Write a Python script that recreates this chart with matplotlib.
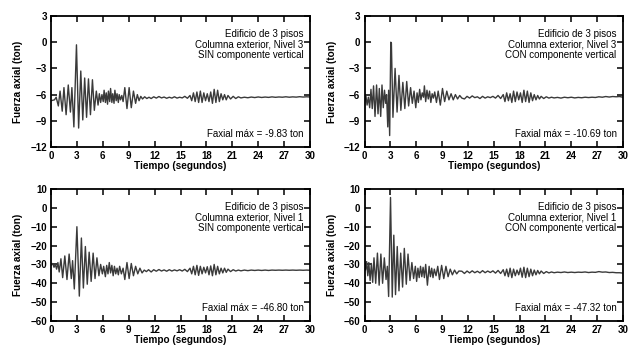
import matplotlib
matplotlib.use("Agg")
import matplotlib.pyplot as plt

plt.rcParams['font.family'] = ['Liberation Sans', 'DejaVu Sans']

# ---------------- data (turning points) ----------------
head_tl = [(0.0,-6.7),(0.4,-6.6),(0.6,-6.3),(0.85,-7.3),(1.05,-5.6),(1.3,-7.9),(1.5,-5.2),
           (1.75,-8.3),(2.0,-4.9),(2.25,-8.0),(2.42,-5.2),(2.65,-9.7),(2.95,-0.3),(3.2,-9.83),
           (3.45,-3.3),(3.68,-8.9),(3.9,-4.1),(4.12,-8.6),(4.34,-4.2),(4.57,-8.3),(4.8,-4.3),
           (5.02,-7.8),(5.25,-5.6),(5.45,-7.2),(5.6,-5.9),(5.75,-6.9),(5.9,-6.0),(6.05,-6.8),
           (6.15,-5.5),(6.3,-6.9),(6.4,-5.8),(6.55,-7.1),(6.65,-5.6),(6.8,-6.8),(6.9,-5.3),
           (7.05,-6.9),(7.15,-5.9),(7.3,-7.0),(7.4,-5.5),(7.55,-6.7),(7.65,-5.9),(7.8,-6.9),
           (7.9,-6.0),(8.05,-6.6),(8.2,-6.1),(8.35,-6.8),(8.55,-5.2),(8.8,-7.6),(9.05,-5.2),
           (9.3,-7.5),(9.55,-5.6),(9.8,-7.0),(10.0,-6.0),(10.2,-6.7),(10.4,-6.2),(10.6,-6.5),
           (10.85,-6.25),(11.1,-6.45),(11.35,-6.3)]

head_tr = [(0.0,-6.9),(0.15,-6.0),(0.3,-7.2),(0.45,-6.3),(0.6,-7.5),(0.75,-5.4),(0.9,-7.6),
           (1.05,-5.0),(1.22,-8.5),(1.4,-4.9),(1.57,-8.2),(1.72,-5.3),(1.88,-8.5),(2.03,-4.9),
           (2.18,-7.5),(2.32,-5.5),(2.46,-7.0),(2.56,-6.0),(2.7,-9.7),(2.8,-5.5),(2.92,-10.69),
           (3.05,0.0),(3.12,-0.1),(3.3,-8.6),(3.55,-3.0),(3.78,-8.0),(4.0,-3.8),(4.22,-7.8),
           (4.45,-4.6),(4.68,-7.6),(4.9,-4.5),(5.12,-7.3),(5.35,-5.2),(5.55,-7.0),(5.75,-5.6),
           (5.95,-7.5),(6.1,-5.8),(6.25,-6.9),(6.4,-5.4),(6.55,-6.6),(6.7,-5.8),(6.85,-6.3),
           (6.95,-5.0),(7.1,-6.8),(7.25,-5.5),(7.4,-6.5),(7.55,-5.6),(7.7,-6.9),(7.85,-5.9),
           (8.0,-6.4),(8.15,-5.7),(8.35,-6.9),(8.55,-5.6),(8.8,-7.2),(9.05,-5.3),(9.3,-6.8),
           (9.55,-5.6),(9.8,-6.6),(10.05,-5.9),(10.3,-6.6),(10.55,-6.0),(10.8,-6.5),
           (11.05,-6.1),(11.3,-6.4)]

head_bl = [(0.0,-30.5),(0.2,-29.5),(0.35,-31.5),(0.5,-30.0),(0.65,-32.5),(0.8,-29.0),
           (0.95,-34.0),(1.15,-27.0),(1.35,-37.0),(1.6,-25.5),(1.85,-38.0),(2.1,-24.5),
           (2.35,-37.5),(2.5,-28.0),(2.7,-43.0),(3.0,-10.0),(3.28,-46.8),(3.52,-16.0),
           (3.75,-42.5),(3.98,-20.5),(4.2,-40.5),(4.42,-23.5),(4.65,-39.0),(4.88,-24.0),
           (5.1,-37.5),(5.32,-26.5),(5.55,-36.0),(5.75,-30.0),(5.95,-35.0),(6.1,-31.0),
           (6.3,-36.5),(6.45,-30.5),(6.6,-35.0),(6.75,-29.0),(6.9,-34.5),(7.05,-30.5),
           (7.2,-36.0),(7.35,-31.0),(7.5,-35.0),(7.65,-32.0),(7.8,-35.5),(7.95,-31.0),
           (8.15,-35.0),(8.35,-32.0),(8.55,-38.0),(8.8,-29.0),(9.05,-37.5),(9.3,-29.5),
           (9.55,-36.0),(9.8,-31.0),(10.05,-35.0),(10.3,-32.0),(10.55,-34.5),(10.8,-33.0),
           (11.05,-33.8),(11.3,-32.8)]

head_br = [(0.0,-27.0),(0.12,-33.0),(0.25,-28.5),(0.38,-36.0),(0.5,-29.0),(0.65,-38.5),
           (0.8,-29.5),(0.95,-39.5),(1.1,-26.5),(1.3,-40.0),(1.5,-24.0),(1.7,-41.0),
           (1.9,-24.5),(2.1,-40.0),(2.3,-26.5),(2.5,-38.0),(2.65,-31.0),(2.8,-47.0),
           (3.02,5.5),(3.22,-47.32),(3.4,-14.5),(3.6,-46.0),(3.8,-20.5),(4.0,-44.0),
           (4.2,-24.0),(4.42,-42.0),(4.62,-21.5),(4.85,-40.5),(5.05,-24.5),(5.28,-38.5),
           (5.5,-29.0),(5.7,-37.5),(5.9,-31.0),(6.05,-39.0),(6.2,-32.0),(6.35,-37.0),
           (6.5,-31.0),(6.65,-36.5),(6.8,-31.5),(6.95,-37.0),(7.1,-30.0),(7.3,-41.0),
           (7.5,-31.0),(7.65,-36.5),(7.8,-32.0),(7.95,-37.0),(8.1,-32.5),(8.3,-36.0),
           (8.5,-31.0),(8.7,-38.0),(8.95,-30.5),(9.2,-37.5),(9.45,-31.0),(9.7,-36.5),
           (9.95,-32.5),(10.2,-35.5),(10.45,-33.0),(10.7,-35.0),(10.95,-33.5),(11.3,-33.6)]

tail_t = [11.6, 11.9, 12.2, 12.5, 12.8, 13.1, 13.4, 13.7, 14.0, 14.3, 14.6, 14.9, 15.2, 15.5, 15.8, 16.1,
          16.3, 16.5, 16.7, 16.9, 17.1, 17.3, 17.5, 17.7, 17.9, 18.1, 18.3, 18.5, 18.7, 18.9, 19.1,
          19.3, 19.5, 19.7, 19.9, 20.1, 20.3, 20.5,
          20.8, 21.1, 21.4, 21.7, 22.0, 22.4, 22.8, 23.2, 23.6, 24.0, 24.4, 24.8, 25.2, 25.6, 26.0,
          26.4, 26.8, 27.2, 27.6, 28.0, 28.4, 28.8, 29.2, 29.6, 30.0]

tail_tl = [-6.45, -6.25, -6.4, -6.22, -6.38, -6.28, -6.42, -6.3, -6.4, -6.25, -6.4, -6.3, -6.38, -6.2, -6.42, -6.1,
           -6.7, -5.8, -6.8, -5.7, -6.9, -5.6, -6.9, -5.8, -6.7, -5.9, -6.8, -5.7, -7.0, -5.4, -6.9,
           -5.5, -6.8, -5.9, -6.6, -6.0, -6.6, -6.1,
           -6.5, -6.2, -6.45, -6.25, -6.38, -6.3, -6.36, -6.28, -6.34, -6.27, -6.33, -6.28, -6.32,
           -6.26, -6.31, -6.27, -6.3, -6.25, -6.3, -6.26, -6.29, -6.24, -6.28, -6.25, -6.27]

tail_tr = [-6.5, -6.2, -6.4, -6.15, -6.35, -6.25, -6.45, -6.2, -6.4, -6.25, -6.35, -6.2, -6.4, -6.1, -6.45, -6.0,
           -6.8, -5.8, -6.7, -5.9, -6.9, -5.6, -6.8, -5.7, -6.6, -5.8, -6.9, -5.5, -6.8, -5.6, -6.9,
           -5.8, -6.7, -6.0, -6.6, -6.1, -6.5, -6.2,
           -6.45, -6.25, -6.4, -6.3, -6.38, -6.32, -6.4, -6.3, -6.36, -6.3, -6.38, -6.32, -6.36,
           -6.3, -6.34, -6.3, -6.33, -6.25, -6.3, -6.22, -6.28, -6.22, -6.25, -6.22, -6.3]

tail_bl = [-34.0, -32.8, -33.6, -32.7, -33.5, -32.9, -33.6, -32.8, -33.5, -32.9, -33.4, -32.8, -33.5, -32.6, -33.8, -32.0,
           -35.0, -31.0, -35.5, -30.5, -35.8, -31.0, -35.0, -31.5, -34.5, -31.2, -35.5, -30.8, -36.0, -30.0, -35.5,
           -31.0, -35.0, -32.0, -34.5, -32.0, -34.2, -32.5,
           -33.8, -32.8, -33.5, -33.0, -33.4, -33.0, -33.3, -33.0, -33.2, -33.0, -33.2, -33.0, -33.2,
           -33.0, -33.1, -33.0, -33.1, -33.0, -33.1, -33.0, -33.1, -33.0, -33.1, -33.0, -33.1]

tail_br = [-34.8, -33.5, -34.5, -33.4, -34.4, -33.6, -34.5, -33.3, -34.4, -33.5, -34.3, -33.4, -34.6, -33.2, -34.8, -32.8,
           -36.0, -32.5, -36.5, -32.0, -37.0, -32.5, -36.0, -33.0, -35.5, -32.0, -36.8, -31.5, -37.0, -32.0, -36.5,
           -32.5, -36.0, -33.0, -35.5, -33.2, -35.0, -33.5,
           -34.8, -33.8, -34.5, -34.0, -34.4, -34.1, -34.3, -34.0, -34.3, -34.1, -34.3, -34.1, -34.2,
           -34.0, -34.3, -34.1, -34.2, -33.8, -34.1, -34.0, -34.3, -34.2, -34.4, -34.4, -34.6]

x_ticks = [0, 3, 6, 9, 12, 15, 18, 21, 24, 27, 30]
y_ticks_top = [3, 0, -3, -6, -9, -12]
y_ticks_bot = [10, 0, -10, -20, -30, -40, -50, -60]

titles = [
    ("Edificio de 3 pisos", "Columna exterior, Nivel 3", "SIN componente vertical", "Faxial máx = -9.83 ton"),
    ("Edificio de 3 pisos", "Columna exterior, Nivel 3", "CON componente vertical", "Faxial máx = -10.69 ton"),
    ("Edificio de 3 pisos", "Columna exterior, Nivel 1", "SIN componente vertical", "Faxial máx = -46.80 ton"),
    ("Edificio de 3 pisos", "Columna exterior, Nivel 1", "CON componente vertical", "Faxial máx = -47.32 ton"),
]

# ---------------- figure ----------------
W, H = 641, 350
fig = plt.figure(figsize=(W / 100, H / 100), dpi=100)

def box(x0, y0, x1, y1):
    return [x0 / W, 1 - y1 / H, (x1 - x0) / W, (y1 - y0) / H]

rects = [box(51, 16, 310, 147), box(364.5, 16, 623, 147),
         box(51, 189, 310, 321), box(364.5, 189, 623, 321)]
heads = [head_tl, head_tr, head_bl, head_br]
tails = [tail_tl, tail_tr, tail_bl, tail_br]

for i in range(4):
    ax = fig.add_axes(rects[i])
    ht, hv = zip(*heads[i])
    t = list(ht) + tail_t
    v = list(hv) + tails[i]
    ax.plot(t, v, color='#3a3a3a', lw=1.0)
    ax.set_xlim(0, 30)
    if i < 2:
        ax.set_ylim(-12, 3)
        ax.set_yticks(y_ticks_top)
    else:
        ax.set_ylim(-60, 10)
        ax.set_yticks(y_ticks_bot)
    ax.set_xticks(x_ticks)
    ax.tick_params(direction='in', length=4, width=1.1, top=True, right=True,
                   labelsize=7, pad=3)
    for lab in ax.get_xticklabels() + ax.get_yticklabels():
        lab.set_fontweight('bold')
    for s in ax.spines.values():
        s.set_linewidth(1.3)
    ax.set_xlabel("Tiempo (segundos)", fontsize=7.2, fontweight='bold', labelpad=0)
    ax.set_ylabel("Fuerza axial (ton)", fontsize=7.2, fontweight='bold', labelpad=5)
    l1, l2, l3, l4 = titles[i]
    ax.text(0.975, 0.865, l1, transform=ax.transAxes, ha='right', va='center', fontsize=7)
    ax.text(0.975, 0.785, l2, transform=ax.transAxes, ha='right', va='center', fontsize=7)
    ax.text(0.975, 0.705, l3, transform=ax.transAxes, ha='right', va='center', fontsize=7)
    ax.text(0.975, 0.10, l4, transform=ax.transAxes, ha='right', va='center', fontsize=7)

fig.savefig("out.png", dpi=100)
